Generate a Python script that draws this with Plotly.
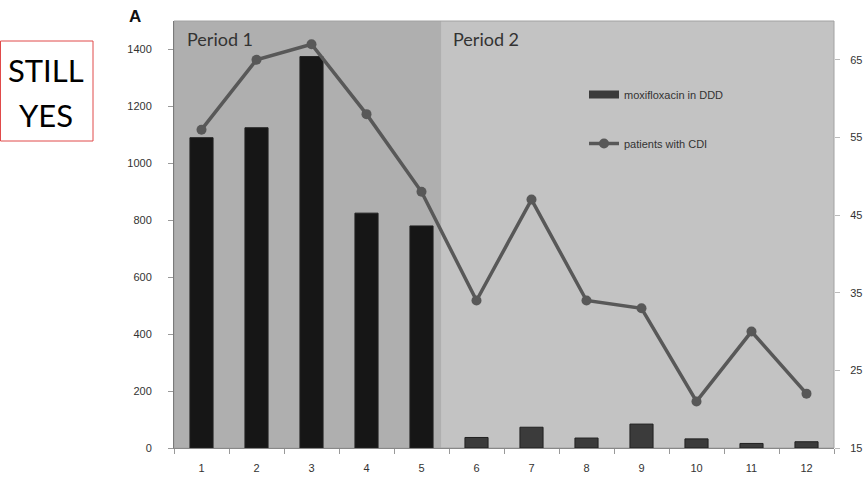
import plotly.graph_objects as go

# ---- data ----
months = ["1", "2", "3", "4", "5", "6", "7", "8", "9", "10", "11", "12"]
moxifloxacin_ddd = [1090, 1125, 1375, 825, 780, 37, 73, 35, 84, 32, 16, 22]
patients_cdi = [56, 65, 67, 58, 48, 34, 47, 34, 33, 21, 30, 22]
left_ticks = [0, 200, 400, 600, 800, 1000, 1200, 1400]
right_ticks = [15, 25, 35, 45, 55, 65]
period_names = ["Period 1", "Period 2"]
period1_months = 5
bar_name = "moxifloxacin in DDD"
line_name = "patients with CDI"
panel_label = "A"
stamp_lines = ["STILL", "YES"]

# ---- geometry helpers ----
W, H = 867, 481
L, R, T, B = 174, 834, 21, 448


def px(x):
    return (x - L) / (R - L)


def py(y):
    return (B - y) / (B - T)


bar_colors = ["#161616" if i < period1_months else "#3b3b3b" for i in range(len(months))]

fig = go.Figure()
fig.add_trace(go.Bar(
    x=months, y=moxifloxacin_ddd, name=bar_name, yaxis="y",
    marker=dict(color=bar_colors, line=dict(color="#202020", width=1)),
    width=0.42, showlegend=False,
))
# legend entry for the bars, drawn as a wide swatch like the original
fig.add_trace(go.Scatter(
    x=[None], y=[None], name=bar_name, yaxis="y", mode="lines",
    line=dict(color="#3b3b3b", width=8), legendgroup="a",
))
fig.add_trace(go.Scatter(
    x=months, y=patients_cdi, name=line_name, yaxis="y2",
    mode="lines+markers",
    line=dict(color="#585858", width=3.5),
    marker=dict(color="#585858", size=10),
    legendgroup="b",
))

split = 4.36
shapes = [
    dict(type="rect", xref="x", yref="paper", x0=-0.5, x1=split, y0=0, y1=1,
         fillcolor="#afafaf", line=dict(width=0), layer="below"),
    dict(type="rect", xref="x", yref="paper", x0=split, x1=11.5, y0=0, y1=1,
         fillcolor="#c3c3c3", line=dict(width=0), layer="below"),
    dict(type="rect", xref="paper", yref="paper", x0=0, x1=1, y0=0, y1=1,
         fillcolor="rgba(0,0,0,0)", line=dict(color="#a2a2a2", width=1), layer="below"),
    dict(type="rect", xref="paper", yref="paper", x0=px(0.5), x1=px(93), y0=py(141), y1=py(41),
         fillcolor="rgba(0,0,0,0)", line=dict(color="#e04a4a", width=1)),
]

annotations = [
    dict(text=f"<b>{panel_label}</b>", xref="paper", yref="paper", x=px(135), y=py(17),
         xanchor="center", yanchor="middle", showarrow=False,
         font=dict(family="Liberation Sans, Arial", size=17, color="#111")),
    dict(text=period_names[0], xref="paper", yref="paper", x=px(185), y=py(39),
         xanchor="left", yanchor="middle", showarrow=False,
         font=dict(family="Lato", size=18, color="#333")),
    dict(text=period_names[1], xref="paper", yref="paper", x=px(451), y=py(39),
         xanchor="left", yanchor="middle", showarrow=False,
         font=dict(family="Lato", size=18, color="#333")),
    dict(text=stamp_lines[0], xref="paper", yref="paper", x=px(46), y=py(70),
         xanchor="center", yanchor="middle", showarrow=False,
         font=dict(family="Lato", size=31, color="#000")),
    dict(text=stamp_lines[1], xref="paper", yref="paper", x=px(46), y=py(115),
         xanchor="center", yanchor="middle", showarrow=False,
         font=dict(family="Lato", size=31, color="#000")),
]

tick_font = dict(family="Liberation Sans, Arial", size=11, color="#333")

fig.update_layout(
    width=W, height=H,
    margin=dict(l=L, r=W - R, t=T, b=H - B, pad=0),
    paper_bgcolor="white", plot_bgcolor="#c3c3c3",
    showlegend=True,
    legend=dict(x=px(584), y=py(80), xanchor="left", yanchor="top",
                bgcolor="rgba(0,0,0,0)", font=dict(family="Liberation Sans, Arial", size=11, color="#333"),
                tracegroupgap=30, traceorder="grouped", itemwidth=30),
    xaxis=dict(type="category", range=[-0.5, 11.5], ticks="outside", tickson="boundaries",
               ticklen=5, tickcolor="#999", showline=True, linecolor="#888", linewidth=1,
               showgrid=False, zeroline=False, tickfont=tick_font, ticklabelstandoff=10,
               automargin=False),
    yaxis=dict(range=[0, 1500], tickvals=left_ticks, ticks="outside", ticklen=5, tickcolor="#999",
               showline=True, linecolor="#7a7a7a", linewidth=1, showgrid=False, zeroline=False,
               tickfont=tick_font, ticklabelstandoff=14, automargin=False),
    yaxis2=dict(range=[15, 70], tickvals=right_ticks, overlaying="y", side="right",
                ticks="outside", ticklen=5, tickcolor="#bbb", showline=False, showgrid=False,
                zeroline=False, tickfont=tick_font, ticklabelstandoff=8, automargin=False),
    shapes=shapes,
    annotations=annotations,
)

fig.write_html("out.html", post_script="document.body.style.margin='0';",
               config={"displayModeBar": False})
